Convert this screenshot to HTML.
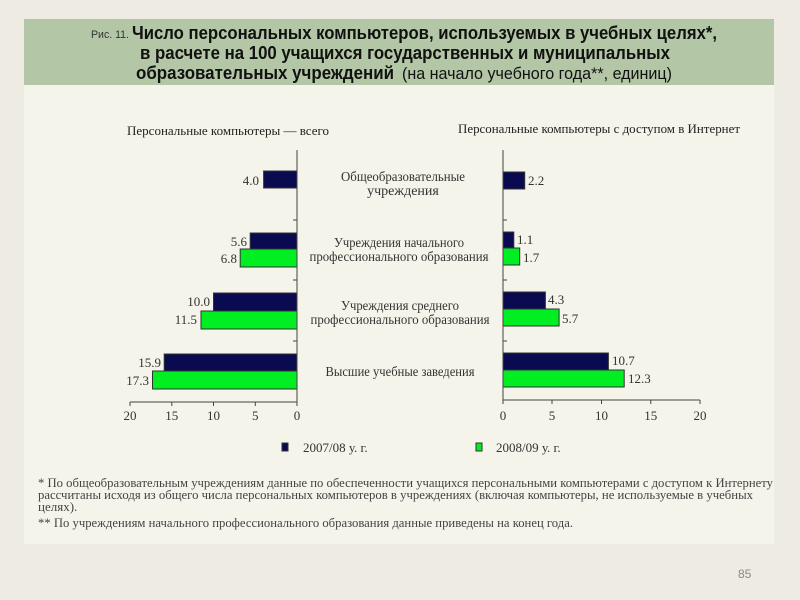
<!DOCTYPE html>
<html><head><meta charset="utf-8"><style>body{margin:0;background:#eeece2}</style></head><body>
<svg width="800" height="600" xmlns="http://www.w3.org/2000/svg" style="display:block">
<rect width="800" height="600" fill="#eeece2"/>
<rect x="24" y="19" width="750" height="525" fill="#f4f4ea"/>
<rect x="24" y="19" width="750" height="66" fill="#b3c6a5"/>
<g font-family="Liberation Sans, sans-serif" fill="#111">
<text x="91" y="38" font-size="11" textLength="38" lengthAdjust="spacingAndGlyphs" fill="#333">Рис. 11.</text>
<text x="132" y="39" font-size="18" font-weight="bold" textLength="585" lengthAdjust="spacingAndGlyphs">Число персональных компьютеров, используемых в учебных целях*,</text>
<text x="140" y="59" font-size="18" font-weight="bold" textLength="530" lengthAdjust="spacingAndGlyphs">в расчете на 100 учащихся государственных и муниципальных</text>
<text x="136" y="79" font-size="18" font-weight="bold" textLength="258" lengthAdjust="spacingAndGlyphs">образовательных учреждений</text>
<text x="402" y="79" font-size="17" textLength="270" lengthAdjust="spacingAndGlyphs">(на начало учебного года**, единиц)</text>
</g>
<g font-family="Liberation Serif, serif" fill="#222" font-size="13">
<text x="127" y="135" textLength="202" lengthAdjust="spacingAndGlyphs">Персональные компьютеры — всего</text>
<text x="458" y="133" textLength="282" lengthAdjust="spacingAndGlyphs">Персональные компьютеры с доступом в Интернет</text>
</g>
<g font-family="Liberation Serif, serif" fill="#333" font-size="14" text-anchor="middle">
<text x="403" y="181" textLength="124" lengthAdjust="spacingAndGlyphs">Общеобразовательные</text>
<text x="403" y="195">учреждения</text>
<text x="399" y="247" textLength="130" lengthAdjust="spacingAndGlyphs">Учреждения начального</text>
<text x="399" y="261" textLength="179" lengthAdjust="spacingAndGlyphs">профессионального образования</text>
<text x="400" y="310" textLength="118" lengthAdjust="spacingAndGlyphs">Учреждения среднего</text>
<text x="400" y="324" textLength="179" lengthAdjust="spacingAndGlyphs">профессионального образования</text>
<text x="400" y="376" textLength="149" lengthAdjust="spacingAndGlyphs">Высшие учебные заведения</text>
</g>
<g stroke="#333" stroke-width="1">
<rect x="263.6" y="171" width="33.4" height="17" fill="#0a0a50"/>
<rect x="250.2" y="233" width="46.8" height="16" fill="#0a0a50"/>
<rect x="240.2" y="249" width="56.8" height="18" fill="#00ee22"/>
<rect x="213.5" y="293" width="83.5" height="18" fill="#0a0a50"/>
<rect x="201" y="311" width="96" height="18" fill="#00ee22"/>
<rect x="164.2" y="354" width="132.8" height="17" fill="#0a0a50"/>
<rect x="152.5" y="371" width="144.5" height="18" fill="#00ee22"/>
<rect x="503" y="172" width="21.7" height="17" fill="#0a0a50"/>
<rect x="503" y="232" width="10.8" height="16" fill="#0a0a50"/>
<rect x="503" y="248" width="16.7" height="17" fill="#00ee22"/>
<rect x="503" y="292" width="42.4" height="17" fill="#0a0a50"/>
<rect x="503" y="309" width="56.1" height="17" fill="#00ee22"/>
<rect x="503" y="353" width="105.4" height="17" fill="#0a0a50"/>
<rect x="503" y="370" width="121.2" height="17" fill="#00ee22"/>
</g>
<g stroke="#444" stroke-width="1" fill="none">
<path d="M297 150V402M130 402H297M130 402v4M171.8 402v4M213.5 402v4M255.3 402v4M297 402v4M297 220h-4M297 280h-4M297 341h-4"/>
<path d="M503 150V400M503 400H700M503 400v4M552 400v4M601.5 400v4M650.8 400v4M700 400v4M503 220h4M503 280h4M503 341h4"/>
</g>
<g font-family="Liberation Serif, serif" fill="#333" font-size="13">
<g text-anchor="end">
<text x="259" y="185">4.0</text>
<text x="247" y="246">5.6</text>
<text x="237" y="263">6.8</text>
<text x="210" y="306">10.0</text>
<text x="197" y="324">11.5</text>
<text x="161" y="367">15.9</text>
<text x="149" y="385">17.3</text>
</g>
<text x="528" y="185">2.2</text>
<text x="517" y="244">1.1</text>
<text x="523" y="262">1.7</text>
<text x="548" y="304">4.3</text>
<text x="562" y="323">5.7</text>
<text x="612" y="365">10.7</text>
<text x="628" y="383">12.3</text>
<g text-anchor="middle">
<text x="130" y="420">20</text><text x="171.8" y="420">15</text><text x="213.5" y="420">10</text><text x="255.3" y="420">5</text><text x="297" y="420">0</text>
<text x="503" y="420">0</text><text x="552" y="420">5</text><text x="601.5" y="420">10</text><text x="650.8" y="420">15</text><text x="700" y="420">20</text>
</g>
<rect x="282" y="443" width="6" height="8" fill="#0a0a50" stroke="#333"/>
<text x="303" y="452">2007/08 у. г.</text>
<rect x="476" y="443" width="6" height="8" fill="#00ee22" stroke="#333"/>
<text x="496" y="452">2008/09 у. г.</text>
<g fill="#444">
<text x="38" y="487" textLength="735" lengthAdjust="spacingAndGlyphs">* По общеобразовательным учреждениям данные по обеспеченности учащихся персональными компьютерами с доступом к Интернету</text>
<text x="38" y="499" textLength="715" lengthAdjust="spacingAndGlyphs">рассчитаны исходя из общего числа персональных компьютеров в учреждениях (включая компьютеры, не используемые в учебных</text>
<text x="38" y="511">целях).</text>
<text x="38" y="527" textLength="535" lengthAdjust="spacingAndGlyphs">** По учреждениям начального профессионального образования данные приведены на конец года.</text>
</g>
</g>
<text x="738" y="578" font-family="Liberation Sans, sans-serif" font-size="12" fill="#888">85</text>
</svg>
</body></html>
